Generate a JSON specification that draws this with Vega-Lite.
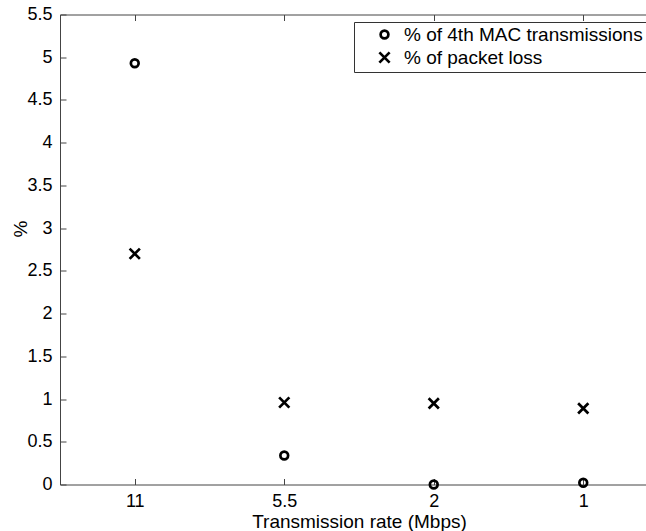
{
  "$schema": "https://vega.github.io/schema/vega-lite/v6.json",
  "width": 598,
  "height": 470,
  "autosize": {"type": "none"},
  "padding": {"left": 60, "top": 14.5, "right": 5, "bottom": 46.5},
  "background": "white",
  "config": {
    "font": "Liberation Sans",
    "view": {"stroke": "#444", "strokeWidth": 1},
    "axis": {
      "domain": false,
      "grid": false,
      "tickColor": "#444",
      "tickSize": -6,
      "labelColor": "black",
      "titleColor": "black",
      "labelFont": "Liberation Sans",
      "titleFont": "Liberation Sans",
      "labelFontSize": 18,
      "titleFontSize": 19,
      "titleFontWeight": "normal"
    },
    "legend": {
      "labelFont": "Liberation Sans",
      "labelFontSize": 19,
      "labelColor": "black",
      "labelLimit": 0
    }
  },
  "data": {
    "values": [
      {"rate": "11", "series": "% of 4th MAC transmissions", "value": 4.93},
      {"rate": "11", "series": "% of packet loss", "value": 2.70},
      {"rate": "5.5", "series": "% of 4th MAC transmissions", "value": 0.34},
      {"rate": "5.5", "series": "% of packet loss", "value": 0.96},
      {"rate": "2", "series": "% of 4th MAC transmissions", "value": 0.0},
      {"rate": "2", "series": "% of packet loss", "value": 0.95},
      {"rate": "1", "series": "% of 4th MAC transmissions", "value": 0.02},
      {"rate": "1", "series": "% of packet loss", "value": 0.89}
    ]
  },
  "layer": [
    {
      "mark": {"type": "point", "filled": false, "stroke": "black", "strokeWidth": 2.7, "opacity": 1},
      "encoding": {
        "x": {
          "field": "rate", "type": "ordinal", "sort": ["11", "5.5", "2", "1"],
          "scale": {"type": "point", "padding": 0.5},
          "axis": {"orient": "bottom", "title": "Transmission rate (Mbps)", "labelAngle": 0, "labelPadding": 14, "titlePadding": 2}
        },
        "y": {
          "field": "value", "type": "quantitative",
          "scale": {"domain": [0, 5.5], "nice": false, "zero": true},
          "axis": {"values": [0, 0.5, 1, 1.5, 2, 2.5, 3, 3.5, 4, 4.5, 5, 5.5], "labelExpr": "toString(datum.value)", "title": "%", "labelPadding": 14, "titleY": 214, "titleX": -30}
        },
        "shape": {
          "field": "series", "type": "nominal",
          "scale": {"domain": ["% of 4th MAC transmissions", "% of packet loss"], "range": ["circle", "M-1,-1L1,1M-1,1L1,-1"]},
          "legend": {
            "title": null, "orient": "none", "legendX": 294, "legendY": 7.5,
            "strokeColor": "#333", "fillColor": "white", "padding": 3,
            "symbolStrokeColor": "black", "symbolStrokeWidth": 2.7, "symbolFillColor": "transparent",
            "symbolOffset": 18, "labelOffset": 10, "rowPadding": 1, "labelLimit": 0
          }
        },
        "size": {
          "field": "series", "type": "nominal",
          "scale": {"domain": ["% of 4th MAC transmissions", "% of packet loss"], "range": [60, 105]},
          "legend": {
            "title": null, "orient": "none", "legendX": 294, "legendY": 7.5,
            "strokeColor": "#333", "fillColor": "white", "padding": 3,
            "symbolStrokeColor": "black", "symbolStrokeWidth": 2.7, "symbolFillColor": "transparent",
            "symbolOffset": 18, "labelOffset": 10, "rowPadding": 1, "labelLimit": 0
          }
        }
      }
    },
    {
      "mark": {"type": "point", "opacity": 0},
      "encoding": {
        "x": {
          "field": "rate", "type": "ordinal", "sort": ["11", "5.5", "2", "1"],
          "scale": {"type": "point", "padding": 0.5},
          "axis": {"orient": "top", "labels": false, "title": null}
        },
        "y": {"field": "value", "type": "quantitative"}
      }
    }
  ],
  "resolve": {"axis": {"x": "independent"}}
}
